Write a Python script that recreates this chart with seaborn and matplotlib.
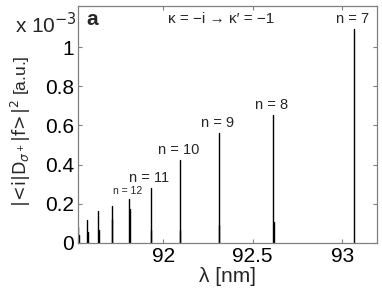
import numpy as np
import pandas as pd
import matplotlib
matplotlib.use("Agg")
import matplotlib.pyplot as plt
import seaborn as sns
from matplotlib.ticker import FuncFormatter, FixedLocator

# ---- data (intensities in units of 1e-3 a.u.) ----
n_levels = [7, 8, 9, 10, 11, 12, 13, 14, 15, 16]
wavelength = [93.066, 92.615, 92.310, 92.093, 91.931, 91.810, 91.711, 91.636, 91.575, 91.526]
main_peak = [1.095, 0.655, 0.561, 0.422, 0.281, 0.226, 0.187, 0.160, 0.116, 0.082]
second_peak = [0.0, 0.107, 0.090, 0.065, 0.065, 0.170, 0.120, 0.065, 0.056, 0.040]
labelled = [7, 8, 9, 10, 11, 12]
xticks = [92, 92.5, 93]
yticks = [0, 0.2, 0.4, 0.6, 0.8, 1.0]

sns.set_style("ticks")
plt.rcParams['font.family'] = ['Liberation Sans', 'DejaVu Sans']

# long-form table: each peak is a vertical stick from 0 to its height
rows = []
for n, lam, h, h2 in zip(n_levels, wavelength, main_peak, second_peak):
    rows += [dict(peak=f"m{n}", lam=lam, I=0.0), dict(peak=f"m{n}", lam=lam, I=h)]
    if h2 > 0:
        rows += [dict(peak=f"s{n}", lam=lam + 0.002, I=0.0), dict(peak=f"s{n}", lam=lam + 0.002, I=h2)]
df = pd.DataFrame(rows)

fig = plt.figure(figsize=(3.82, 2.90), dpi=100)
ax = fig.add_axes([0.204, 0.163, 0.783, 0.816])

sns.lineplot(data=df, x="lam", y="I", units="peak", estimator=None, sort=False,
             color="black", linewidth=1.0, ax=ax, legend=False)

ax.set_xlim(91.523, 93.195)
ax.set_ylim(0, 1.21)
ax.xaxis.set_major_locator(FixedLocator(xticks))
ax.yaxis.set_major_locator(FixedLocator(yticks))
fmt = FuncFormatter(lambda v, p: f"{v:g}")
ax.xaxis.set_major_formatter(fmt)
ax.yaxis.set_major_formatter(fmt)
ax.tick_params(direction="in", length=3, width=0.8, color="#808080",
               labelsize=15, top=True, right=True, pad=3, labelcolor="black")
for s in ax.spines.values():
    s.set_color("#808080")
    s.set_linewidth(0.9)

ax.set_xlabel("λ [nm]", fontsize=15, labelpad=1)
ax.set_ylabel(r"$|\!<\!\mathrm{i}|\mathrm{D}_{\sigma^+}|\mathrm{f}\!>\!|^2$ [a.u.]", fontsize=12.5)
ax.yaxis.set_label_coords(-0.15, 0.47)

fig.text(0.04, 0.915, r"x 10$^{-3}$", fontsize=15, ha="left", va="center")
ax.text(0.028, 0.945, "a", transform=ax.transAxes, fontsize=15, fontweight="bold",
        ha="left", va="center")
ax.text(0.48, 0.945, "κ = −i → κ′ = −1", transform=ax.transAxes, fontsize=11,
        ha="center", va="center")

for n, lam, h in zip(n_levels, wavelength, main_peak):
    if n in labelled:
        fs = 7.5 if n == 12 else 10.5
        ax.annotate(f"n = {n}", xy=(lam, h), xytext=(-1, 2), textcoords="offset points",
                    ha="center", va="bottom", fontsize=fs)

fig.savefig("out.png", dpi=100)
